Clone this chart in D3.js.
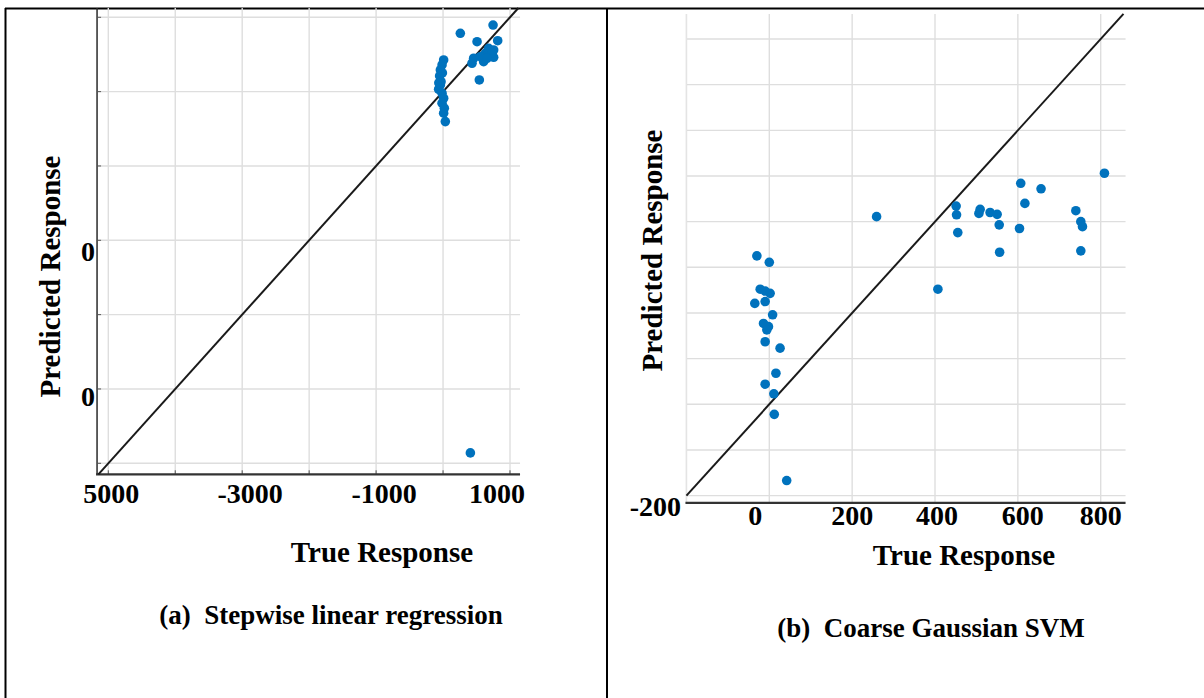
<!DOCTYPE html>
<html><head><meta charset="utf-8">
<script src="https://cdn.jsdelivr.net/npm/d3@7"></script>
<style>
html,body{margin:0;padding:0;background:#fff;}
svg{display:block;}
text{font-family:"Liberation Serif","Times New Roman",serif;font-weight:bold;fill:#000;}
</style></head><body>
<svg id="c" width="1204" height="698"></svg>
<script>
// ---------- Panel (a): Stepwise linear regression ----------
const aTrue = [258,747,816,508,542,433,457,606,632,756,756,681,557,732,657,
               9,-15,-40,-51,-30,-66,-15,9,-15,19,9,34,-40,-10,-63, 408];
const aPred = [785,896,685,672,157,382,449,403,516,560,462,583,470,516,449,
               426,359,292,211,134,32,-22,-89,-156,-223,-290,-403,90,251,117, -4860];
const aGridX = [-5000,-4000,-3000,-2000,-1000,0,1000];
const aGridY = [-5000,-4000,-3000,-2000,-1000,0,1000];
const aXTickVals = [-5000,-3000,-1000,1000];
const aXTickText = ["5000","-3000","-1000","1000"];
const aYTickVals = [-2000,-4000];
const aYTickText = ["0","0"];

// ---------- Panel (b): Coarse Gaussian SVM ----------
const bTrue = [259,451,452,455,509,506,533,550,555,607,617,604,656,740,752,756,809,556,752,
               -30,0,407,-22,-10,2,-35,-10,8,-14,-2,-6,-10,26,16,-10,11,12,42];
const bPred = [411,434,415,376,427,418,420,416,393,484,440,385,472,424,400,389,506,333,336,
               325,311,252,252,248,243,221,225,196,177,170,163,137,123,68,44,23,-22,-167];
const bGridX = [-200,0,200,400,600,800];
const bGridY = [-200,-100,0,100,200,300,400,500,600,700,800];
const bXTickVals = [0,200,400,600,800];
const bXTickText = ["0","200","400","600","800"];
const bYTickVals = [-200];
const bYTickText = ["-200"];

const svg = d3.select("#c");

// table frame
svg.append("line").attr("x1",5).attr("x2",1204).attr("y1",8.5).attr("y2",8.5).attr("stroke","#000").attr("stroke-width",2);
svg.append("line").attr("x1",5.5).attr("x2",5.5).attr("y1",8).attr("y2",698).attr("stroke","#000").attr("stroke-width",2);
svg.append("line").attr("x1",607).attr("x2",607).attr("y1",8).attr("y2",698).attr("stroke","#000").attr("stroke-width",2);

function panel(o){
  const g = svg.append("g");
  const x = d3.scaleLinear().domain(o.xDom).range(o.xRange);
  const y = d3.scaleLinear().domain(o.yDom).range(o.yRange);
  const X0 = x(o.xLim[0]), X1 = x(o.xLim[1]);
  const Y0 = y(o.yLim[0]), Y1 = y(o.yLim[1]);

  // grid
  g.append("g").selectAll("line").data(o.gridX).join("line")
    .attr("x1",d=>x(d)).attr("x2",d=>x(d)).attr("y1",Y1).attr("y2",Y0)
    .attr("stroke","#dedede").attr("stroke-width",1.4);
  g.append("g").selectAll("line").data(o.gridY).join("line")
    .attr("x1",X0).attr("x2",X1).attr("y1",d=>y(d)).attr("y2",d=>y(d))
    .attr("stroke","#dedede").attr("stroke-width",1.4);

  // axes
  if(o.yAxisDark){
    g.append("line").attr("x1",X0).attr("x2",X0).attr("y1",Y1).attr("y2",Y0)
      .attr("stroke","#2a2a2a").attr("stroke-width",1.5);
    g.append("g").selectAll("line").data(o.gridY).join("line")
      .attr("x1",X0).attr("x2",X0+4).attr("y1",d=>y(d)).attr("y2",d=>y(d))
      .attr("stroke","#555").attr("stroke-width",1);
    g.append("g").selectAll("line").data(o.gridX).join("line")
      .attr("x1",d=>x(d)).attr("x2",d=>x(d)).attr("y1",Y0).attr("y2",Y0-4)
      .attr("stroke","#555").attr("stroke-width",1);
  } else {
    g.append("line").attr("x1",X0).attr("x2",X0).attr("y1",Y1).attr("y2",Y0)
      .attr("stroke","#e4e4e4").attr("stroke-width",1.2);
  }
  g.append("line").attr("x1",X0-1).attr("x2",X1).attr("y1",Y0).attr("y2",Y0)
    .attr("stroke","#333").attr("stroke-width",2.2);

  // diagonal y = x
  const d0 = Math.max(o.xLim[0],o.yLim[0]), d1 = Math.min(o.xLim[1],o.yLim[1]);
  g.append("line").attr("x1",x(d0)).attr("y1",y(d0)).attr("x2",x(d1)).attr("y2",y(d1))
    .attr("stroke","#1a1a1a").attr("stroke-width",2);

  // points
  g.append("g").selectAll("circle").data(o.tv.map((v,i)=>[v,o.pv[i]])).join("circle")
    .attr("cx",d=>x(d[0])).attr("cy",d=>y(d[1])).attr("r",4.8).attr("fill","#0072BD");

  // tick labels
  g.append("g").selectAll("text").data(o.xTickVals).join("text")
    .attr("x",(d,i)=>x(d)+o.xNudge[i]).attr("y",o.xLabY)
    .attr("text-anchor","middle").attr("font-size",28).text((d,i)=>o.xTickText[i]);
  g.append("g").selectAll("text").data(o.yTickVals).join("text")
    .attr("x",o.yLabX).attr("y",(d,i)=>y(d)+o.yLabDy[i])
    .attr("text-anchor","end").attr("font-size",28).text((d,i)=>o.yTickText[i]);

  // titles
  g.append("text").attr("transform",`translate(${o.yTitle[0]},${o.yTitle[1]}) rotate(-90)`)
    .attr("text-anchor","middle").attr("font-size",29).text("Predicted Response");
  g.append("text").attr("x",o.xTitle[0]).attr("y",o.xTitle[1])
    .attr("text-anchor","middle").attr("font-size",29).text("True Response");
  g.append("text").attr("x",o.cap[0]).attr("y",o.cap[1])
    .attr("text-anchor","middle").attr("font-size",27).attr("xml:space","preserve").text(o.capText);
}

panel({
  xDom:[-5000,1000], xRange:[108.3,510], yDom:[-5000,1000], yRange:[463.3,17.3],
  xLim:[-5168,1150], yLim:[-5148,1125],
  gridX:aGridX, gridY:aGridY, yAxisDark:true,
  tv:aTrue, pv:aPred,
  xTickVals:aXTickVals, xTickText:aXTickText, xNudge:[3,8,8,-13], xLabY:503,
  yTickVals:aYTickVals, yTickText:aYTickText, yLabX:95, yLabDy:[21,17],
  yTitle:[60,276.5], xTitle:[382,561.5], cap:[331,624], capText:"(a)  Stepwise linear regression"
});

panel({
  xDom:[0,800], xRange:[769.3,1100.7], yDom:[0,800], yRange:[404.3,39],
  xLim:[-200,860], yLim:[-216,855],
  gridX:bGridX, gridY:bGridY, yAxisDark:false,
  tv:bTrue, pv:bPred,
  xTickVals:bXTickVals, xTickText:bXTickText, xNudge:[-14,0,2,5,0], xLabY:525,
  yTickVals:bYTickVals, yTickText:bYTickText, yLabX:681, yLabDy:[20],
  yTitle:[661.5,250.5], xTitle:[964,565], cap:[931,637], capText:"(b)  Coarse Gaussian SVM"
});
</script>
</body></html>
